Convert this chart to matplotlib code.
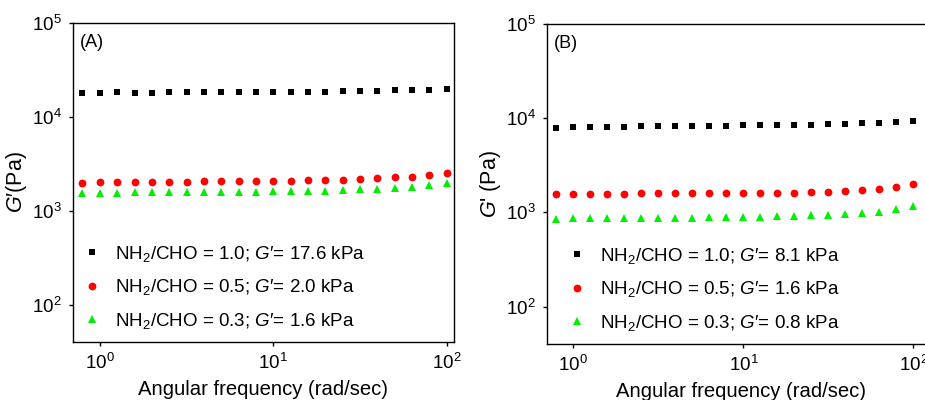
import matplotlib
matplotlib.use("Agg")
import matplotlib.pyplot as plt

plt.rcParams['font.family'] = ['Liberation Sans', 'DejaVu Sans']
plt.rcParams['mathtext.fontset'] = 'custom'
plt.rcParams['mathtext.rm'] = 'Liberation Sans'
plt.rcParams['mathtext.it'] = 'Liberation Sans:italic'
plt.rcParams['mathtext.bf'] = 'Liberation Sans:bold'

# angular frequency (rad/sec), 10 points per decade
freq = [0.794, 1.0, 1.259, 1.585, 1.995, 2.512, 3.162, 3.981, 5.012, 6.310, 7.943,
        10.0, 12.59, 15.85, 19.95, 25.12, 31.62, 39.81, 50.12, 63.10, 79.43, 100.0]

# panel A
a_10 = [18000, 18100, 18200, 18000, 18000, 18300, 18300, 18200, 18300, 18300, 18300,
        18400, 18400, 18500, 18600, 18700, 18900, 19000, 19100, 19300, 19400, 19600]
a_05 = [1986, 2000, 2000, 2036, 2036, 2040, 2040, 2070, 2070, 2070, 2070,
        2100, 2100, 2120, 2120, 2140, 2190, 2230, 2265, 2290, 2380, 2540]
a_03 = [1553, 1560, 1560, 1570, 1570, 1580, 1580, 1590, 1590, 1590, 1600,
        1615, 1615, 1630, 1640, 1655, 1690, 1720, 1760, 1790, 1860, 1985]
labels_a = ["NH$_2$/CHO = 1.0; $G$\u2032= 17.6 kPa",
            "NH$_2$/CHO = 0.5; $G$\u2032= 2.0 kPa",
            "NH$_2$/CHO = 0.3; $G$\u2032= 1.6 kPa"]

# panel B
b_10 = [7960, 8090, 8090, 8090, 8090, 8220, 8220, 8290, 8290, 8360, 8360,
        8430, 8500, 8500, 8560, 8560, 8630, 8700, 8780, 8930, 9070, 9230]
b_05 = [1570, 1580, 1580, 1570, 1580, 1590, 1590, 1590, 1590, 1590, 1590,
        1590, 1607, 1607, 1607, 1630, 1648, 1690, 1714, 1787, 1862, 1985]
b_03 = [857, 864, 864, 864, 871, 871, 871, 878, 878, 885, 892,
        892, 900, 907, 922, 937, 945, 962, 984, 1017, 1086, 1178]
labels_b = ["NH$_2$/CHO = 1.0; $G$\u2032= 8.1 kPa",
            "NH$_2$/CHO = 0.5; $G$\u2032= 1.6 kPa",
            "NH$_2$/CHO = 0.3; $G$\u2032= 0.8 kPa"]

fig = plt.figure(figsize=(9.25, 4.0), dpi=100)
ax_a = fig.add_axes([0.0789, 0.145, 0.4119, 0.7975])
ax_b = fig.add_axes([0.5914, 0.14, 0.4195, 0.80])


def draw(ax, s10, s05, s03, labels, tag, ylab, xmax, legx):
    ax.plot(freq, s10, 's', color='black', ms=4.8, mew=0, label=labels[0])
    ax.plot(freq, s05, 'o', color='#ff0000', ms=5.6, mew=0, label=labels[1])
    ax.plot(freq, s03, '^', color='#00ee00', ms=5.8, mew=0, label=labels[2])
    ax.set_xscale('log')
    ax.set_yscale('log')
    ax.set_xlim(0.7, xmax)
    ax.set_ylim(40, 1e5)
    ax.minorticks_off()
    ax.tick_params(which='major', direction='out', length=3, width=1,
                   labelsize=13.5, top=False, right=False, pad=5)
    for sp in ax.spines.values():
        sp.set_linewidth(1.0)
    ax.set_xlabel("Angular frequency (rad/sec)", fontsize=14.6, labelpad=5)
    ax.set_ylabel(ylab, fontsize=15.5, labelpad=2)
    ax.text(0.018, 0.94, tag, transform=ax.transAxes, fontsize=13,
            va='center', ha='left')
    ax.legend(loc='lower left', bbox_to_anchor=(legx, -0.011), frameon=False,
              fontsize=13.5, handletextpad=0.6, labelspacing=0.71,
              handlelength=1.2, borderaxespad=0.4)


draw(ax_a, a_10, a_05, a_03, labels_a, "(A)", "$G$\u2032(Pa)", 110, -0.018)
draw(ax_b, b_10, b_05, b_03, labels_b, "(B)", "$G$' (Pa)", 134, 0.01)

fig.savefig("out.png", dpi=100)
